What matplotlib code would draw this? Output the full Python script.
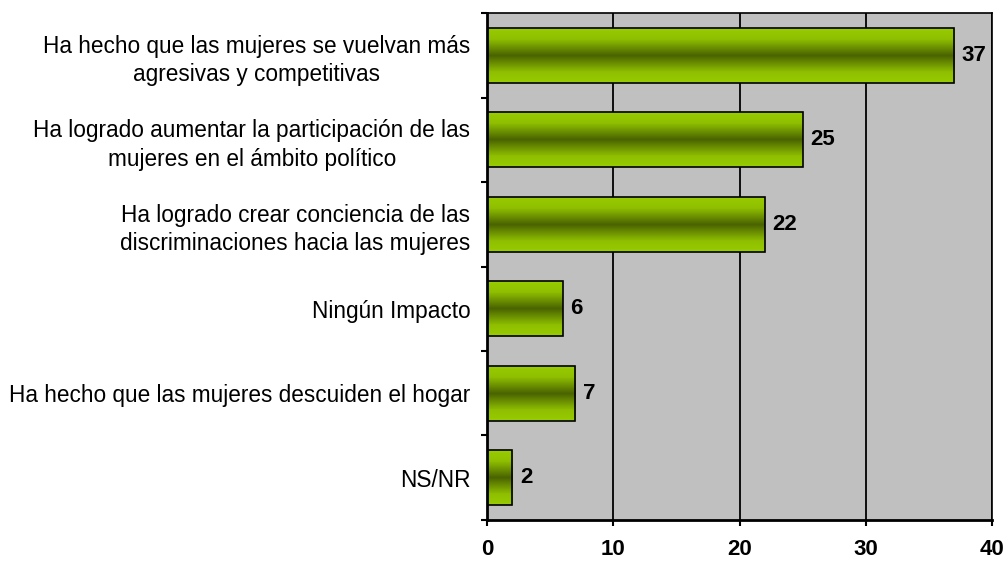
import matplotlib
matplotlib.use("Agg")
import matplotlib.pyplot as plt
import numpy as np
from matplotlib.colors import LinearSegmentedColormap

categories = [
    "Ha hecho que las mujeres se vuelvan más\nagresivas y competitivas",
    "Ha logrado aumentar la participación de las\nmujeres en el ámbito político",
    "Ha logrado crear conciencia de las\ndiscriminaciones hacia las mujeres",
    "Ningún Impacto",
    "Ha hecho que las mujeres descuiden el hogar",
    "NS/NR",
]
values = [37, 25, 22, 6, 7, 2]
xticks = [0, 10, 20, 30, 40]

plt.rcParams['font.family'] = ['Liberation Sans', 'DejaVu Sans']

fig = plt.figure(figsize=(10.06, 5.61), dpi=100)
ax = fig.add_axes([0.4841, 0.0731, 0.5020, 0.9037])
ax.set_facecolor('#c0c0c0')

n = len(categories)
ypos = np.arange(n)
bars = ax.barh(ypos, values, height=0.65, facecolor='none', edgecolor='black', linewidth=1.2, zorder=3)

cmap = LinearSegmentedColormap.from_list(
    'g', [(0, '#99cc00'), (0.2, '#8fbf00'), (0.5, '#4a6300'), (0.8, '#8fbf00'), (1, '#99cc00')])
grad = np.linspace(0, 1, 256).reshape(-1, 1)
for b in bars:
    x0, y0 = b.get_x(), b.get_y()
    w, h = b.get_width(), b.get_height()
    im = ax.imshow(grad, cmap=cmap, aspect='auto', extent=[x0, x0 + w, y0 + h, y0],
                   zorder=2, interpolation='bilinear')
    im.set_clip_path(b)

for y, v in zip(ypos, values):
    ax.text(v + 0.6, y, str(v), va='center', ha='left', fontsize=16, fontweight='bold', zorder=4)

ax.set_xlim(0, 40)
ax.set_ylim(n - 0.5, -0.5)
ax.set_xticks(xticks)
ax.set_xticklabels([str(t) for t in xticks], fontsize=16, fontweight='bold')
ax.tick_params(axis='x', length=4.5, width=1.5, pad=9, direction='out')
ax.xaxis.grid(True, color='black', linewidth=1.3, zorder=1)
ax.set_axisbelow(True)

ax.set_yticks(ypos)
ax.set_yticklabels(categories, fontsize=16.3, linespacing=1.3)
ax.tick_params(axis='y', which='major', length=0, pad=12)
ax.set_yticks(np.arange(-0.5, n, 1), minor=True)
ax.tick_params(axis='y', which='minor', length=4.5, width=1.5, direction='out')
for lbl in ax.get_yticklabels():
    lbl.set_horizontalalignment('right')
    lbl.set_multialignment('center')

for s in ['left', 'bottom']:
    ax.spines[s].set_linewidth(2)
for s in ['top', 'right']:
    ax.spines[s].set_linewidth(1.2)

fig.savefig('out.png', dpi=100)
